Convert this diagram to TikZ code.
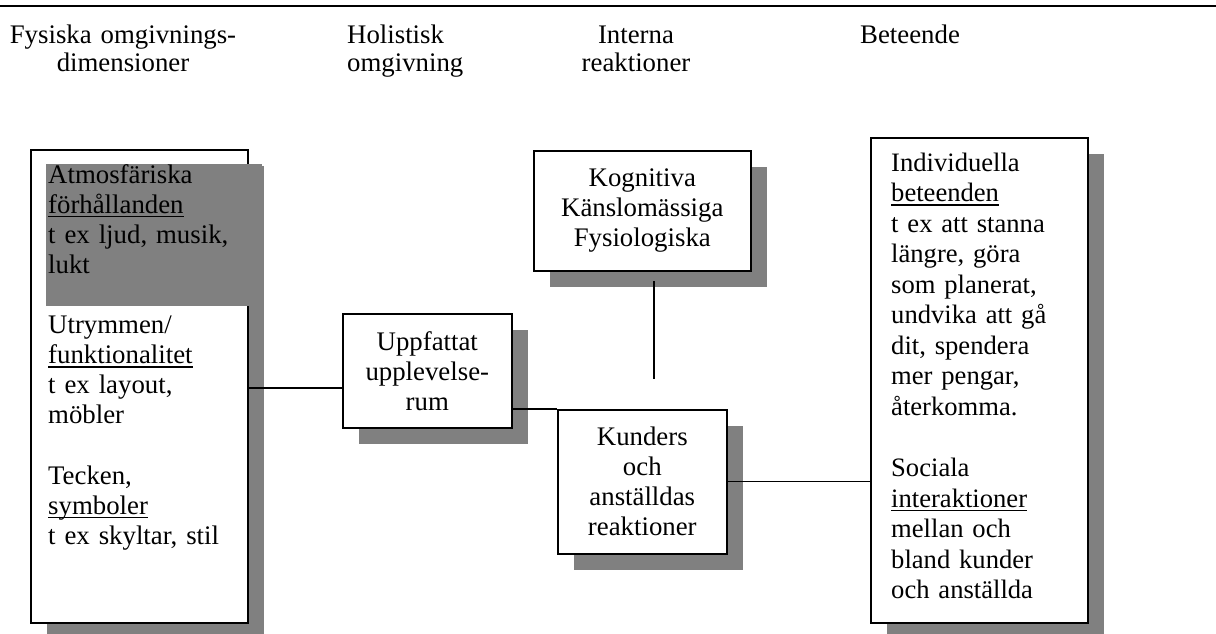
\documentclass[tikz,border=0pt]{standalone}
\usepackage{fontspec}
\setmainfont{Liberation Serif}
\usetikzlibrary{shadows}
\definecolor{shadowgray}{HTML}{808080}
% underline drawn as a rule just below the baseline
\newcommand\ulword[1]{\leavevmode\setbox0\hbox{#1}\rlap{\rule[-4.3pt]{\wd0}{1.7pt}}\box0}

\begin{document}
\begin{tikzpicture}[x=1pt,y=-1pt,
  box/.style={draw, line width=1.6pt, fill=white, inner sep=0pt, align=center,
    font=\fontsize{26.8}{30}\selectfont,
    drop shadow={shadow xshift=16pt, shadow yshift=-16pt, fill=shadowgray, opacity=1}},
  wire/.style={line width=1.3pt},
  txt/.style={inner sep=0pt, font=\fontsize{26.8}{30.3}\selectfont},
  hdr/.style={inner sep=0pt, font=\fontsize{26.8}{28}\selectfont},
]
\useasboundingbox (0,0) rectangle (1216,634);

% rule across the top
\draw[line width=2.3pt] (0,6.2) -- (1216,6.2);

% column headings
\node[hdr, anchor=base, text width=260pt, align=center] (h1) at (123,44) {Fysiska omgivnings-\\dimensioner};
\node[hdr, anchor=base west, text width=150pt, align=left] (h2) at (347,44) {Holistisk\\omgivning};
\node[hdr, anchor=base, text width=150pt, align=center] (h3) at (636,44) {Interna\\reaktioner};
\node[hdr, anchor=base west] (h4) at (860,44) {Beteende};

% physical dimensions
\node[box, minimum width=217pt, minimum height=473pt, anchor=north west] (L) at (30,149) {};
\fill[shadowgray] (46,164) rectangle (262,306);
\node[txt, anchor=base west, text width=215pt, align=left, font=\fontsize{26.8}{30.1}\selectfont] (Ltxt) at (48,183)
  {Atmosfäriska\\\ulword{förhållanden}\\t ex ljud, musik,\\lukt\\[30.1pt]Utrymmen/\\\ulword{funktionalitet}\\t ex layout,\\möbler\\[30.1pt]Tecken,\\\ulword{symboler}\\t ex skyltar, stil};

% holistic environment
\node[box, minimum width=169pt, minimum height=114pt, anchor=north west] (U) at (342,313) {Uppfattat\\upplevelse-\\rum};

% internal reactions
\node[box, minimum width=217pt, minimum height=120pt, anchor=north west] (K) at (533,150) {Kognitiva\\Känslomässiga\\Fysiologiska};
\node[box, minimum width=169pt, minimum height=144pt, anchor=north west] (R) at (557,409) {Kunders\\och\\anställdas\\reaktioner};

% behaviour
\node[box, minimum width=217pt, minimum height=485pt, anchor=north west] (B) at (870,137) {};
\node[txt, anchor=base west, text width=215pt, align=left, font=\fontsize{26.6}{30.55}\selectfont] (Btxt) at (891,171)
  {Individuella\\\ulword{beteenden}\\t ex att stanna\\längre, göra\\som planerat,\\undvika att gå\\dit, spendera\\mer pengar,\\återkomma.\\[30.55pt]Sociala\\\ulword{interaktioner}\\mellan och\\bland kunder\\och anställda};

% connectors
\coordinate (luy) at (0,388);
\draw[wire] (L.east |- luy) -- (U.west |- luy);
\draw[wire] (R.north west -| U.east) -- (R.north west);
\coordinate (kt) at (654,281);
\coordinate (kb) at (654,379);
\draw[wire] (kt) -- (kb);
\draw[wire] (R.east) -- (B.west |- R.east);
\end{tikzpicture}
\end{document}
